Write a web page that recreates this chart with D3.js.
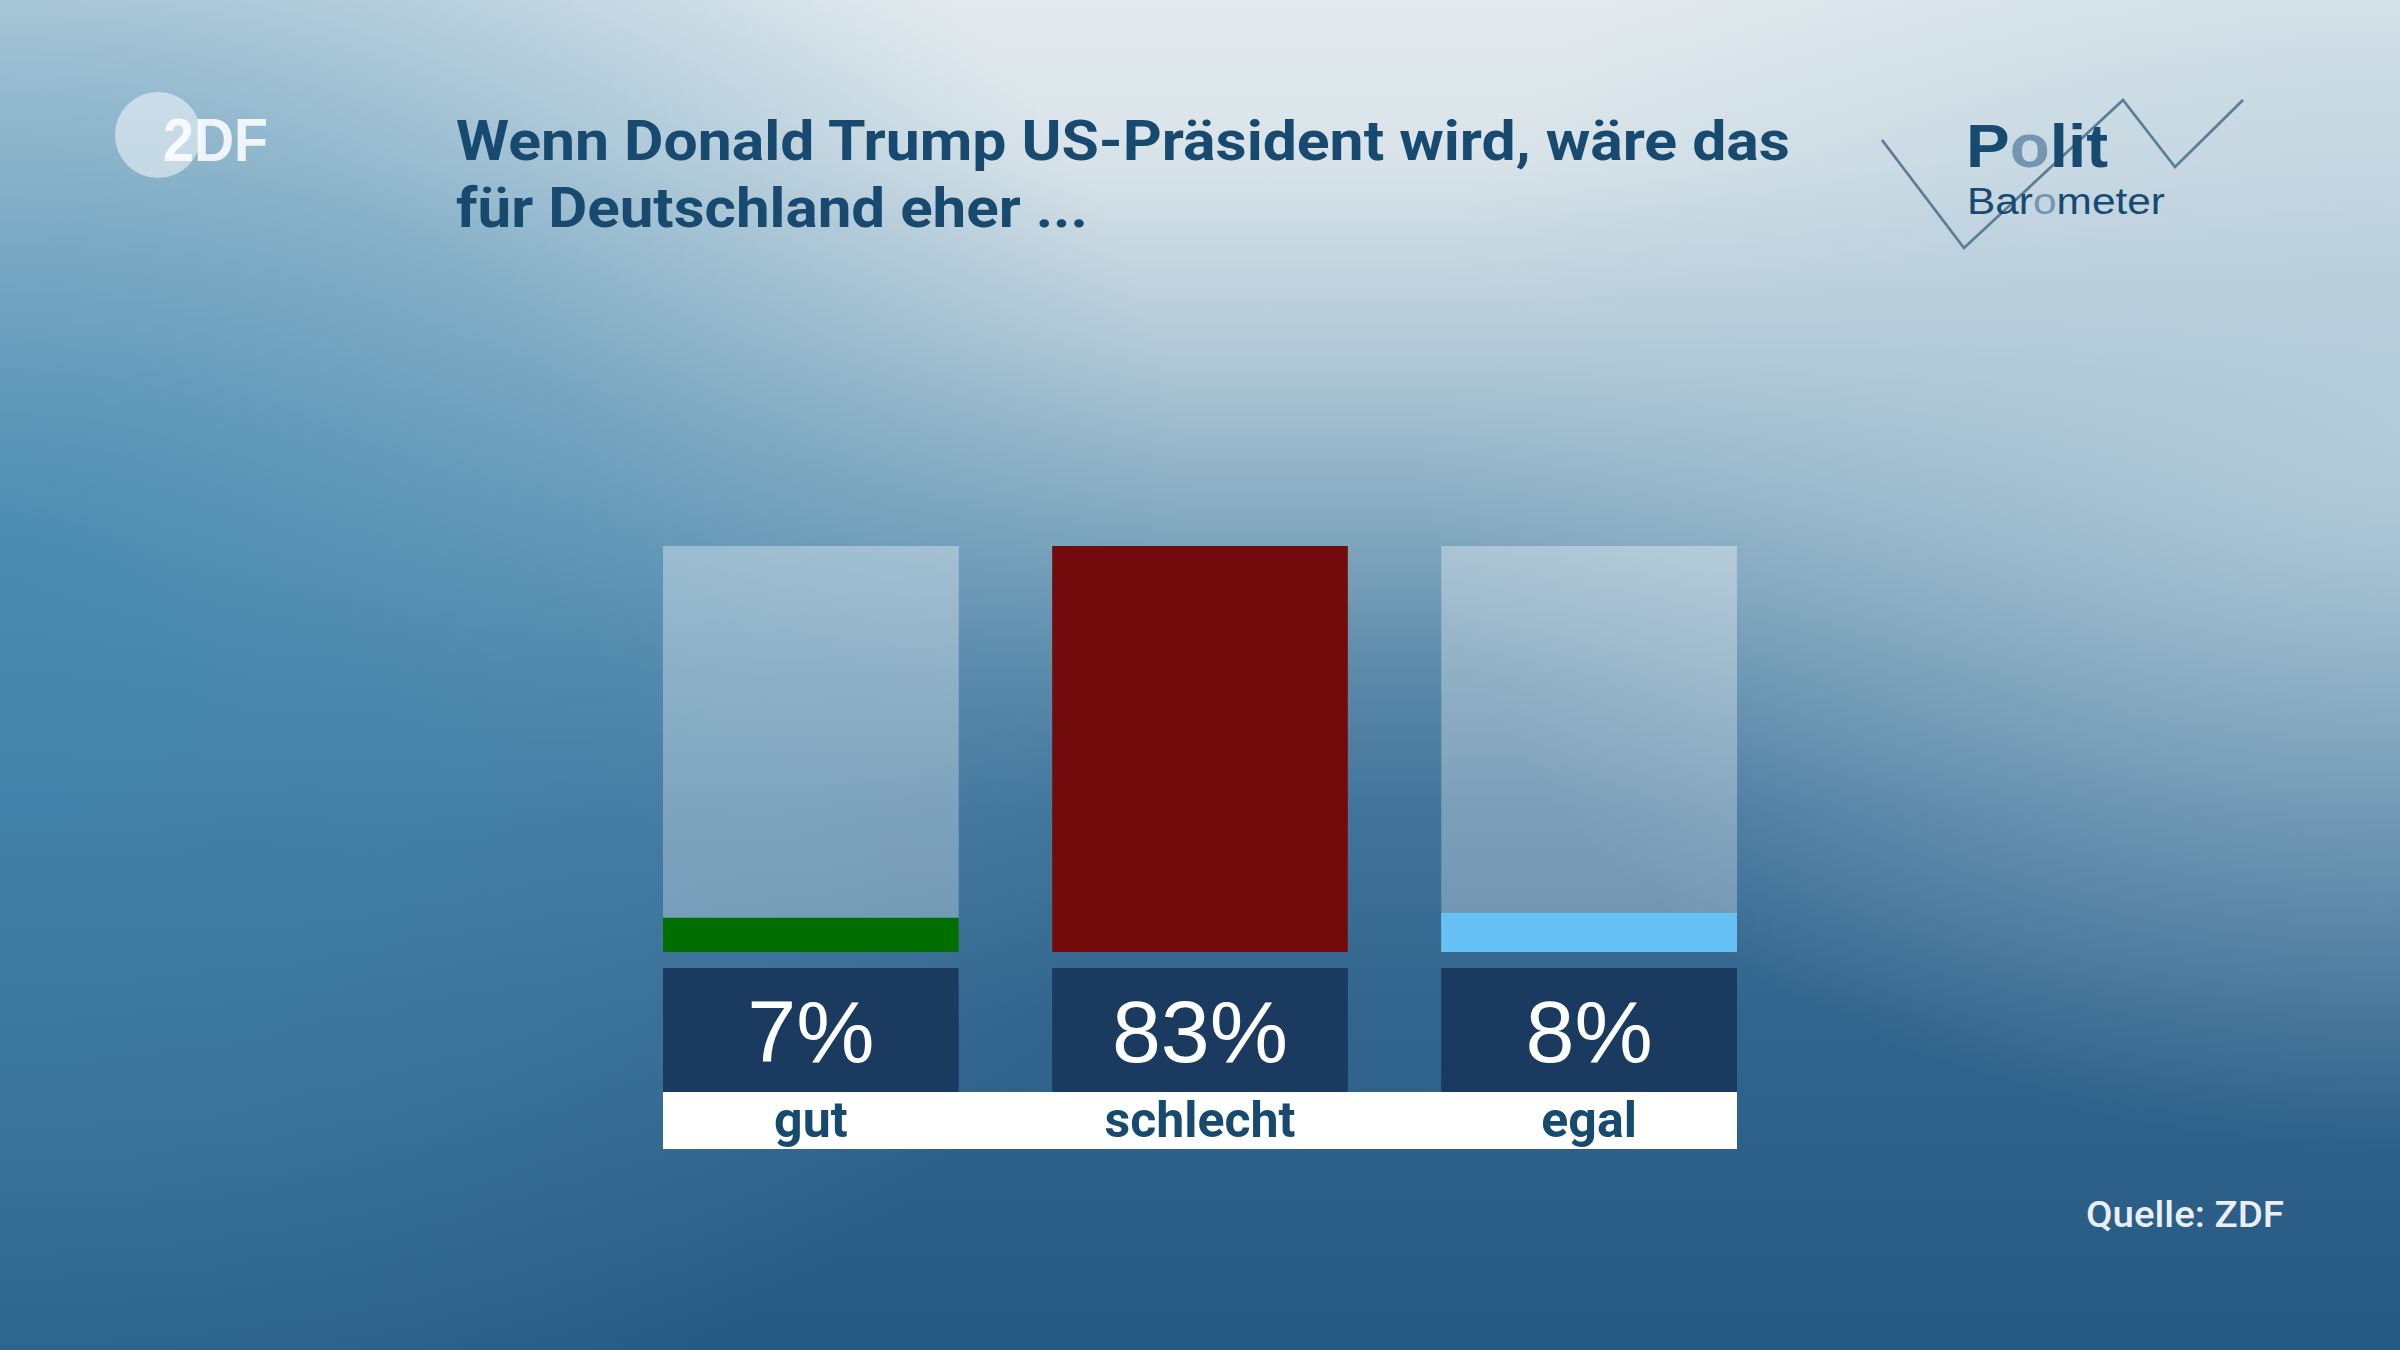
<!DOCTYPE html>
<html>
<head>
<meta charset="utf-8">
<script src="https://cdn.jsdelivr.net/npm/d3@7"></script>
<style>
html,body{margin:0;padding:0;background:#5a8aad;}
svg{display:block;}
</style>
</head>
<body>
<svg id="chart" width="2400" height="1350"></svg>
<script>
// ---- data ----
const categories = ["gut", "schlecht", "egal"];
const values = [7, 83, 8];
const valueLabels = ["7%", "83%", "8%"];
const barColors = ["#006e00", "#720b0c", "#66c1f4"];
const titleLines = ["Wenn Donald Trump US-Präsident wird, wäre das", "für Deutschland eher ..."];
const sourceText = "Quelle: ZDF";

const W = 2400, H = 1350;
const svg = d3.select("#chart");
const defs = svg.append("defs");

// background gradients
const lg = defs.append("linearGradient").attr("id", "bgV").attr("x1", 0).attr("y1", 0).attr("x2", 0).attr("y2", 1);
[[0, "#e4ebef"], [0.12, "#d8e3e9"], [0.25, "#b5cbd8"], [0.37, "#8aaec4"], [0.5, "#5a89a9"], [0.6, "#42749b"], [0.75, "#32658d"], [1, "#255a84"]]
  .forEach(([o, c]) => lg.append("stop").attr("offset", o).attr("stop-color", c));

const rg = defs.append("radialGradient").attr("id", "bgL")
  .attr("gradientUnits", "userSpaceOnUse").attr("cx", 0).attr("cy", 580).attr("r", 1000)
  .attr("gradientTransform", "translate(0,580) scale(1.2,0.95) translate(0,-580)");
[[0, "#3d85ae", 0.8], [0.5, "#4689b0", 0.5], [1, "#5a93b5", 0]]
  .forEach(([o, c, a]) => rg.append("stop").attr("offset", o).attr("stop-color", c).attr("stop-opacity", a));

const rg2 = defs.append("radialGradient").attr("id", "bgR")
  .attr("gradientUnits", "userSpaceOnUse").attr("cx", 2400).attr("cy", 430).attr("r", 900)
  .attr("gradientTransform", "translate(2400,430) scale(1.1,0.8) translate(-2400,-430)");
[[0, "#b9cfdc", 0.85], [0.5, "#b5cddb", 0.45], [1, "#b5cddb", 0]]
  .forEach(([o, c, a]) => rg2.append("stop").attr("offset", o).attr("stop-color", c).attr("stop-opacity", a));

const trackG = defs.append("linearGradient").attr("id", "track").attr("x1", 0).attr("y1", 0).attr("x2", 0).attr("y2", 1);
[[0, "#ffffff", 0.35], [1, "#ffffff", 0.28]]
  .forEach(([o, c, a]) => trackG.append("stop").attr("offset", o).attr("stop-color", c).attr("stop-opacity", a));

svg.append("rect").attr("width", W).attr("height", H).attr("fill", "url(#bgV)");
svg.append("rect").attr("width", W).attr("height", H).attr("fill", "url(#bgL)");
svg.append("rect").attr("width", W).attr("height", H).attr("fill", "url(#bgR)");

// ---- ZDF logo ----
const zdf = svg.append("g");
zdf.append("circle").attr("cx", 158).attr("cy", 135).attr("r", 43)
  .attr("fill", "#ffffff").attr("fill-opacity", 0.5);
zdf.append("text").attr("x", 163).attr("y", 161)
  .attr("font-family", "Liberation Sans, Arial, sans-serif").attr("font-weight", "bold")
  .attr("font-size", 62).attr("fill", "#ffffff").attr("fill-opacity", 0.85)
  .attr("textLength", 105).attr("lengthAdjust", "spacingAndGlyphs")
  .text("2DF");

// ---- title ----
const title = svg.append("g")
  .attr("font-family", "Roboto, sans-serif").attr("font-weight", "bold")
  .attr("font-size", 55).attr("fill", "#184a70");
title.append("text").attr("x", 456).attr("y", 160)
  .attr("textLength", 1334).attr("lengthAdjust", "spacingAndGlyphs").text(titleLines[0]);
title.append("text").attr("x", 456).attr("y", 227)
  .attr("textLength", 632).attr("lengthAdjust", "spacingAndGlyphs").text(titleLines[1]);

// ---- Politbarometer logo ----
const pb = svg.append("g");
pb.append("polyline")
  .attr("points", "1882,140 1964,248 2123,100 2175,167 2243,100")
  .attr("fill", "none").attr("stroke", "#5b7d97").attr("stroke-width", 2.8);
const polit = pb.append("text").attr("x", 1966).attr("y", 167)
  .attr("font-family", "Liberation Sans, Arial, sans-serif").attr("font-weight", "bold")
  .attr("font-size", 62).attr("fill", "#174a70")
  .attr("textLength", 142).attr("lengthAdjust", "spacingAndGlyphs");
polit.append("tspan").text("P");
polit.append("tspan").attr("fill", "#7596b0").text("o");
polit.append("tspan").text("lit");
const baro = pb.append("text").attr("x", 1967).attr("y", 214)
  .attr("font-family", "Liberation Sans, Arial, sans-serif")
  .attr("font-size", 36).attr("fill", "#174a70")
  .attr("textLength", 198).attr("lengthAdjust", "spacingAndGlyphs");
baro.append("tspan").text("Bar");
baro.append("tspan").attr("fill", "#7596b0").text("o");
baro.append("tspan").text("meter");

// ---- bars ----
const x = d3.scaleBand().domain(categories).range([663, 1737]).paddingInner(0.24).paddingOuter(0);
const y = d3.scaleLinear().domain([0, d3.max(values)]).range([952, 546]);
const data = categories.map((c, i) => ({ c, v: values[i], label: valueLabels[i], color: barColors[i] }));

const g = svg.append("g");
g.selectAll(".track").data(data).join("rect").attr("class", "track")
  .attr("x", d => x(d.c)).attr("width", x.bandwidth())
  .attr("y", y(d3.max(values))).attr("height", y(0) - y(d3.max(values)))
  .attr("fill", "url(#track)");
g.selectAll(".bar").data(data).join("rect").attr("class", "bar")
  .attr("x", d => x(d.c)).attr("width", x.bandwidth())
  .attr("y", d => y(d.v)).attr("height", d => y(0) - y(d.v))
  .attr("fill", d => d.color);

// value boxes
g.selectAll(".vbox").data(data).join("rect").attr("class", "vbox")
  .attr("x", d => x(d.c)).attr("width", x.bandwidth())
  .attr("y", 968).attr("height", 125).attr("fill", "#1a3b5f");
g.selectAll(".vtxt").data(data).join("text").attr("class", "vtxt")
  .attr("x", d => x(d.c) + x.bandwidth() / 2).attr("y", 1062)
  .attr("text-anchor", "middle").attr("font-family", "Liberation Sans, Arial, sans-serif")
  .attr("font-size", 88).attr("fill", "#ffffff").text(d => d.label);

// label band
g.append("rect").attr("x", x.range()[0]).attr("width", x.range()[1] - x.range()[0])
  .attr("y", 1092).attr("height", 57).attr("fill", "#ffffff");
g.selectAll(".ctxt").data(data).join("text").attr("class", "ctxt")
  .attr("x", d => x(d.c) + x.bandwidth() / 2).attr("y", 1137)
  .attr("text-anchor", "middle").attr("font-family", "Roboto, sans-serif").attr("font-weight", "bold")
  .attr("font-size", 50).attr("fill", "#184a70").text(d => d.c);

// source
svg.append("text").attr("x", 2284).attr("y", 1227).attr("text-anchor", "end")
  .attr("font-family", "Roboto, sans-serif").attr("font-weight", 500)
  .attr("font-size", 36).attr("fill", "#e9eff4")
  .attr("textLength", 198).attr("lengthAdjust", "spacingAndGlyphs").text(sourceText);
</script>
</body>
</html>
